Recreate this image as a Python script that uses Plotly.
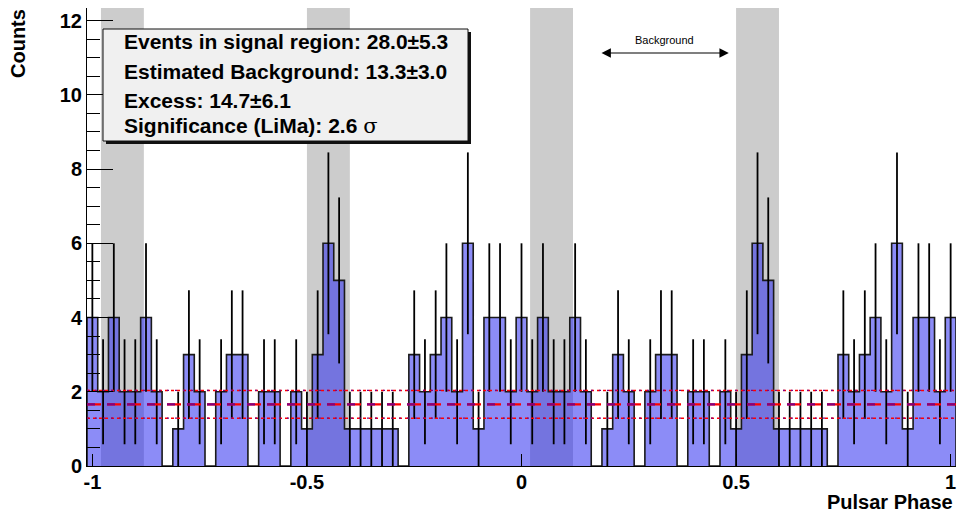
import plotly.graph_objects as go

# ---------------- data ----------------
bin_width = 0.025
phase_min = -1.0
n_bins = 81
phase = [round(phase_min + i * bin_width, 4) for i in range(n_bins)]  # bin centres
counts = [4, 2, 4, 2, 2, 4, 2, 0, 1, 3, 2, 0, 2, 3, 3, 0, 2, 2, 0, 2,
          1, 3, 6, 5, 1, 1, 1, 1, 1, 0, 3, 2, 3, 4, 2, 6, 1, 4, 4, 2,
          4, 2, 4, 2, 2, 4, 2, 0, 1, 3, 2, 0, 2, 3, 3, 0, 2, 2, 0, 2,
          1, 3, 6, 5, 1, 1, 1, 1, 1, 0, 3, 2, 3, 4, 2, 6, 1, 4, 4, 2,
          4]
signal_regions = [(-0.98, -0.88), (-0.5, -0.4), (0.02, 0.12), (0.5, 0.6)]
bkg_level = 1.6625
bkg_err = 0.375
bkg_arrow = (0.183, 0.483)
x_ticks = [-1, -0.5, 0, 0.5, 1]
x_ticktext = ["-1", "-0.5", "0", "0.5", "1"]
stats_lines = [
    "Events in signal region: 28.0\u00b15.3",
    "Estimated Background: 13.3\u00b13.0",
    "Excess: 14.7\u00b16.1",
    "Significance (LiMa): 2.6 <span style='font-weight:normal;font-family:DejaVu Serif'>\u03c3</span>",
]

# ---------------- geometry helpers ----------------
W, H = 959, 515
L, R, T, B = 87, 3, 8, 49
PW, PH = W - L - R, H - T - B
x_range = [phase_min - bin_width / 2, phase[-1] + bin_width / 2]
y_range = [0, 12.34]


def pxx(px):
    return (px - L) / PW


def pxy(py):
    return (H - B - py) / PH


FONT = "Liberation Sans, Arial, sans-serif"

# ---------------- traces ----------------
edges = [c - bin_width / 2 for c in phase] + [phase[-1] + bin_width / 2]
step_y = counts + [counts[-1]]

fig = go.Figure()
fig.add_trace(go.Scatter(
    x=edges, y=step_y, mode="lines", line=dict(width=0, shape="hv"),
    fill="tozeroy", fillcolor="rgba(35,35,240,0.52)", hoverinfo="skip",
    showlegend=False))
fig.add_trace(go.Scatter(
    x=[edges[0]] + edges + [edges[-1]], y=[0] + step_y + [0], mode="lines",
    line=dict(width=1.6, color="#1a1a1a", shape="hv"), showlegend=False))
errs = [c ** 0.5 for c in counts]
fig.add_trace(go.Scatter(
    x=phase, y=counts, mode="markers", marker=dict(size=1, opacity=0),
    error_y=dict(type="data", array=errs, visible=True, width=0,
                 thickness=1.8, color="black"),
    showlegend=False))

# background level lines
for lvl in [bkg_level + bkg_err, bkg_level - bkg_err]:
    fig.add_trace(go.Scatter(x=x_range, y=[lvl, lvl], mode="lines",
                             line=dict(color="red", width=1.5, dash="dot"),
                             showlegend=False))
    fig.add_trace(go.Scatter(x=x_range, y=[lvl, lvl], mode="lines",
                             line=dict(color="purple", width=1.2, dash="2px,6px"),
                             showlegend=False))
fig.add_trace(go.Scatter(x=x_range, y=[bkg_level, bkg_level], mode="lines",
                         line=dict(color="red", width=2.2, dash="14px,6px"),
                         showlegend=False))
fig.add_trace(go.Scatter(x=x_range, y=[bkg_level, bkg_level], mode="lines",
                         line=dict(color="purple", width=2.2, dash="8px,12px"),
                         showlegend=False))

# ---------------- shapes ----------------
shapes = []
for a, b in signal_regions:
    shapes.append(dict(type="rect", xref="x", yref="paper", x0=a, x1=b, y0=0, y1=1,
                       fillcolor="#cccccc", line=dict(width=0), layer="below"))
# stats box with shadow
bx0, by0, bx1, by1 = 103, 29, 468, 141
shapes.append(dict(type="rect", xref="paper", yref="paper",
                   x0=pxx(bx0 + 3), x1=pxx(bx1 + 3), y0=pxy(by1 + 3), y1=pxy(by0 + 3),
                   fillcolor="#111111", line=dict(width=0), layer="above"))
shapes.append(dict(type="rect", xref="paper", yref="paper",
                   x0=pxx(bx0), x1=pxx(bx1), y0=pxy(by1), y1=pxy(by0),
                   fillcolor="#f0f0f0", line=dict(width=1, color="#111111"), layer="above"))

# ---------------- annotations ----------------
ann = []
line_y = [41, 71, 101, 126]
for txt, ly in zip(stats_lines, line_y):
    ann.append(dict(text=txt, xref="paper", yref="paper", x=pxx(122), y=pxy(ly),
                    xanchor="left", yanchor="middle", showarrow=False,
                    font=dict(family=FONT, size=21, color="black", weight="bold")))
ann.append(dict(text="Counts", xref="paper", yref="paper", x=pxx(18), y=pxy(44),
                xanchor="center", yanchor="middle", textangle=-90, showarrow=False,
                font=dict(family=FONT, size=20, color="black", weight="bold")))
ann.append(dict(text="Pulsar Phase", xref="paper", yref="paper", x=pxx(955), y=pxy(515),
                xanchor="right", yanchor="bottom", showarrow=False,
                font=dict(family=FONT, size=20, color="black", weight="bold")))
arrow_y = (H - B - 53) / PH * (y_range[1] - y_range[0])
ann.append(dict(text="", x=bkg_arrow[1], y=arrow_y, ax=bkg_arrow[0], ay=arrow_y,
                xref="x", yref="y", axref="x", ayref="y", showarrow=True,
                arrowside="end+start", arrowhead=2, arrowsize=1.7, arrowwidth=1.1,
                arrowcolor="black", standoff=0, startstandoff=0))
ann.append(dict(text="Background", xref="x", yref="paper",
                x=(bkg_arrow[0] + bkg_arrow[1]) / 2, y=pxy(40),
                xanchor="center", yanchor="middle", showarrow=False,
                font=dict(family=FONT, size=11, color="black")))

fig.update_layout(
    width=W, height=H, margin=dict(l=L, r=R, t=T, b=B),
    paper_bgcolor="white", plot_bgcolor="white",
    shapes=shapes, annotations=ann, showlegend=False,
    xaxis=dict(range=x_range, tickvals=x_ticks, ticktext=x_ticktext,
               ticks="inside", ticklen=12, tickcolor="black", tickwidth=1,
               ticklabelstandoff=-2,
               showline=True, linecolor="black", linewidth=1,
               showgrid=False, zeroline=False,
               tickfont=dict(family=FONT, size=20, color="black", weight="bold")),
    yaxis=dict(range=y_range, dtick=2, tick0=0,
               ticks="inside", ticklen=26, tickcolor="black", tickwidth=1,
               minor=dict(ticks="inside", ticklen=13, dtick=0.5, tickcolor="black"),
               showline=True, linecolor="black", linewidth=1,
               showgrid=False, zeroline=False,
               tickfont=dict(family=FONT, size=20, color="black", weight="bold")),
)

fig.write_html("out.html")
